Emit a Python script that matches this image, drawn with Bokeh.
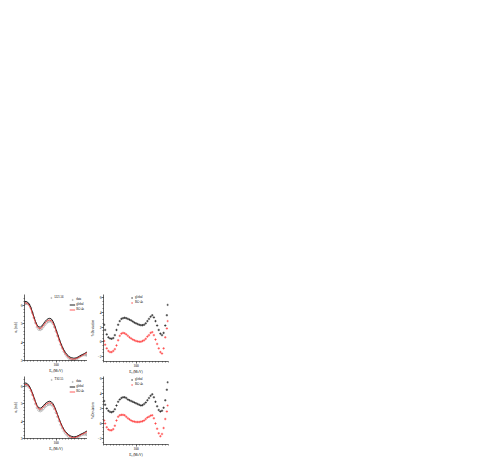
from bokeh.plotting import figure
from bokeh.layouts import column, row
from bokeh.models import Spacer, FixedTicker, Legend, LegendItem, Range1d
from bokeh.embed import file_html
from bokeh.resources import INLINE

# ---------------- data ----------------
E_curve = [0, 5, 10, 15, 20, 25, 30, 35, 40, 45, 50, 55, 60, 65, 70, 75, 80, 85, 90, 95, 100,
           105, 110, 115, 120, 125, 130, 135, 140, 145, 150, 155, 160, 165, 170, 175, 180, 185, 190, 195, 200]
E_pts = [2, 5, 10, 15, 20, 25, 30, 35, 40, 45, 50, 55, 60, 65, 70, 75, 80, 85, 90, 95, 100,
         105, 110, 115, 120, 125, 130, 135, 140, 145, 150, 155, 160, 165, 170, 175, 180, 185, 190, 195, 198]

# top row (LU1.56)
top_data = [6.1, 6.1, 6.1, 6.03, 5.87, 5.6, 5.33, 5.05, 4.82, 4.7, 4.68, 4.73, 4.85, 4.96, 5.06, 5.12,
            5.15, 5.13, 5.02, 4.83, 4.59, 4.35, 4.11, 3.87, 3.67, 3.49, 3.35, 3.23, 3.14, 3.07, 3.03,
            3.02, 3.04, 3.08, 3.14, 3.2, 3.26, 3.29, 3.31, 3.3, 3.29]
top_global = [6.22, 6.22, 6.18, 6.08, 5.9, 5.65, 5.38, 5.12, 4.93, 4.83, 4.82, 4.88, 5.0, 5.12, 5.22,
              5.28, 5.3, 5.27, 5.15, 4.95, 4.7, 4.45, 4.2, 3.95, 3.75, 3.57, 3.43, 3.32, 3.24, 3.18,
              3.15, 3.13, 3.13, 3.15, 3.19, 3.24, 3.29, 3.33, 3.38, 3.43, 3.48]
top_rg = [6.15, 6.14, 6.1, 6.0, 5.82, 5.57, 5.31, 5.06, 4.87, 4.76, 4.74, 4.79, 4.91, 5.03, 5.13, 5.19,
          5.21, 5.18, 5.06, 4.86, 4.62, 4.37, 4.12, 3.88, 3.68, 3.5, 3.36, 3.25, 3.17, 3.11, 3.08,
          3.07, 3.08, 3.11, 3.15, 3.2, 3.24, 3.29, 3.34, 3.39, 3.44]
top_dev_global = [2.3, 1.6, 1.0, 0.6, 0.45, 0.4, 0.5, 0.9, 1.6, 2.3, 2.8, 3.1, 3.2, 3.25, 3.2, 3.1, 3.0,
                  2.9, 2.75, 2.6, 2.5, 2.4, 2.3, 2.25, 2.25, 2.3, 2.5, 2.8, 3.1, 3.4, 3.6, 3.3, 2.8,
                  2.2, 1.6, 1.1, 0.9, 1.2, 2.2, 3.6, 5.0]
top_dev_rg = [0.1, -0.4, -0.9, -1.25, -1.4, -1.4, -1.25, -1.0, -0.5, 0.2, 0.8, 1.1, 1.2, 1.15, 1.0, 0.8,
              0.6, 0.45, 0.3, 0.2, 0.1, 0.05, 0.0, 0.0, 0.1, 0.2, 0.4, 0.7, 0.9, 1.2, 1.3, 0.9, 0.3,
              -0.3, -0.9, -1.4, -1.6, -0.9, 0.6, 1.8, 2.8]

# bottom row (TS2.55)
bot_data = [6.05, 6.06, 6.04, 5.95, 5.77, 5.53, 5.27, 5.0, 4.77, 4.63, 4.59, 4.63, 4.73, 4.83, 4.91,
            4.96, 4.98, 4.96, 4.87, 4.71, 4.49, 4.26, 4.02, 3.79, 3.6, 3.43, 3.3, 3.2, 3.11, 3.05,
            3.0, 2.99, 3.0, 3.04, 3.09, 3.15, 3.2, 3.23, 3.24, 3.24, 3.22]
bot_global = [6.2, 6.2, 6.15, 6.03, 5.85, 5.63, 5.38, 5.12, 4.9, 4.78, 4.75, 4.8, 4.9, 5.0, 5.08, 5.13,
              5.15, 5.12, 5.02, 4.85, 4.62, 4.38, 4.13, 3.9, 3.7, 3.53, 3.4, 3.3, 3.22, 3.16, 3.12,
              3.1, 3.1, 3.12, 3.16, 3.21, 3.26, 3.3, 3.35, 3.4, 3.45]
bot_rg = [6.12, 6.12, 6.08, 5.97, 5.8, 5.57, 5.32, 5.06, 4.84, 4.71, 4.68, 4.72, 4.82, 4.92, 5.0, 5.05,
          5.07, 5.04, 4.94, 4.78, 4.56, 4.32, 4.08, 3.85, 3.65, 3.48, 3.35, 3.25, 3.16, 3.1, 3.06,
          3.04, 3.05, 3.08, 3.12, 3.17, 3.22, 3.26, 3.3, 3.35, 3.4]
bot_dev_global = [3.0, 2.5, 2.0, 1.7, 1.55, 1.5, 1.6, 1.9, 2.4, 2.9, 3.2, 3.4, 3.5, 3.5, 3.4, 3.2, 3.1,
                  3.0, 2.9, 2.8, 2.7, 2.6, 2.5, 2.4, 2.45, 2.6, 2.8, 3.1, 3.4, 3.7, 3.9, 3.5, 2.9,
                  2.3, 1.8, 1.6, 1.7, 2.1, 3.1, 4.5, 5.5]
bot_dev_rg = [0.4, 0.0, -0.5, -0.8, -0.9, -0.9, -0.75, -0.3, 0.4, 0.9, 1.1, 1.15, 1.15, 1.1, 0.9, 0.7,
              0.55, 0.4, 0.3, 0.25, 0.2, 0.2, 0.2, 0.25, 0.3, 0.4, 0.6, 0.8, 0.9, 1.05, 1.1, 0.7, 0.0,
              -0.7, -1.3, -1.7, -1.4, -0.6, 0.6, 1.6, 2.4]

x_ticks = [100]
x_minor = [0, 10, 20, 30, 40, 50, 60, 70, 80, 90, 110, 120, 130, 140, 150, 160, 170, 180, 190, 200]
left_yticks = [3, 4, 5, 6]
right_yticks = [-2, 0, 2, 4, 6]

FONT = "Liberation Serif"
FS = "3.5px"


def make_fig(fw, fh, bl, br, bt, bb, yr, yticks, yminor, ylabel):
    p = figure(frame_width=fw, frame_height=fh, x_range=Range1d(0, 200), y_range=Range1d(*yr),
               output_backend="svg", toolbar_location=None,
               min_border_left=bl, min_border_right=br, min_border_top=bt, min_border_bottom=bb)
    p.outline_line_color = None
    p.grid.visible = False
    p.xaxis.ticker = FixedTicker(ticks=x_ticks, minor_ticks=x_minor)
    p.yaxis.ticker = FixedTicker(ticks=yticks, minor_ticks=yminor)
    for ax in (p.xaxis[0], p.yaxis[0]):
        ax.axis_line_width = 0.6
        ax.major_tick_line_width = 0.6
        ax.minor_tick_line_width = 0.5
        ax.major_tick_out = 2
        ax.major_tick_in = 0
        ax.minor_tick_out = 1
        ax.minor_tick_in = 0
        ax.major_label_standoff = 0
        ax.axis_label_standoff = 0
        ax.major_label_text_font = FONT
        ax.major_label_text_font_size = FS
        ax.major_label_text_color = "black"
        ax.major_label_text_line_height = 1.0
        ax.axis_label_text_font = FONT
        ax.axis_label_text_font_size = FS
        ax.axis_label_text_font_style = "normal"
        ax.axis_label_text_color = "black"
        ax.axis_label_text_line_height = 1.0
    p.xaxis.axis_label = "Eᵧ (MeV)"
    p.yaxis.axis_label = ylabel
    return p


def style_legend(lg):
    lg.label_text_font = FONT
    lg.label_text_font_size = "3px"
    lg.label_text_color = "black"
    lg.glyph_width = 6
    lg.glyph_height = 3
    lg.label_height = 3
    lg.label_width = 4
    lg.label_standoff = 1
    lg.spacing = 1
    lg.padding = 0
    lg.background_fill_alpha = 0
    lg.border_line_color = None
    return lg


def left_panel(fw, fh, bl, br, bt, bb, yr, data, glob, rg, name):
    p = make_fig(fw, fh, bl, br, bt, bb, yr, left_yticks,
                 [3.2, 3.4, 3.6, 3.8, 4.2, 4.4, 4.6, 4.8, 5.2, 5.4, 5.6, 5.8, 6.2, 6.4],
                 "σᵧ [mb]")
    r_d = p.scatter(E_pts, data, marker="circle", size=2, fill_color=None,
                    line_color="#8a8a8a", line_width=0.5)
    r_g = p.line(E_curve, glob, line_color="black", line_width=0.9)
    r_r = p.line(E_curve, rg, line_color="#ff3030", line_width=0.8)
    lg1 = style_legend(Legend(items=[LegendItem(label=name, renderers=[r_d])],
                              location="top_center"))
    lg1.margin = 1
    lg2 = style_legend(Legend(items=[LegendItem(label="data", renderers=[r_d]),
                                     LegendItem(label="global", renderers=[r_g]),
                                     LegendItem(label="RG-4s", renderers=[r_r])],
                              location="top_right"))
    lg2.margin = 3
    p.add_layout(lg1)
    p.add_layout(lg2)
    return p


def right_panel(fw, fh, bl, br, bt, bb, yr, dev_g, dev_r):
    p = make_fig(fw, fh, bl, br, bt, bb, yr, right_yticks,
                 [-2.5, -1.5, -1, -0.5, 0.5, 1, 1.5, 2.5, 3, 3.5, 4.5, 5, 5.5],
                 "%Deviation")
    r_g = p.scatter(E_pts, dev_g, marker="cross", size=2.4, line_color="black", line_width=0.6)
    r_r = p.scatter(E_pts, dev_r, marker="cross", size=2.4, line_color="#ff2020", line_width=0.6)
    lg = style_legend(Legend(items=[LegendItem(label="global", renderers=[r_g]),
                                    LegendItem(label="RG-4s", renderers=[r_r])],
                             location="top_center"))
    lg.margin = 1
    p.add_layout(lg)
    return p


# row 1 frames start at y=294, row 2 frames right below row 1
tl = left_panel(63, 66, 16, 0, 4, 13, (3.0, 6.6), top_data, top_global, top_rg, "LU1.56")
tr = right_panel(65, 67, 15, 4, 4, 12, (-2.68, 6.41), top_dev_global, top_dev_rg)
bl = left_panel(63, 62, 16, 0, 0, 22, (3.0, 6.58), bot_data, bot_global, bot_rg, "TS2.55")
br = right_panel(65, 68, 15, 4, 0, 16, (-2.8, 6.27), bot_dev_global, bot_dev_rg)

layout = column(Spacer(width=10, height=290),
                row(Spacer(width=8, height=10), tl, tr),
                row(Spacer(width=8, height=10), bl, br))

open("out.html", "w").write(file_html(layout, INLINE))
